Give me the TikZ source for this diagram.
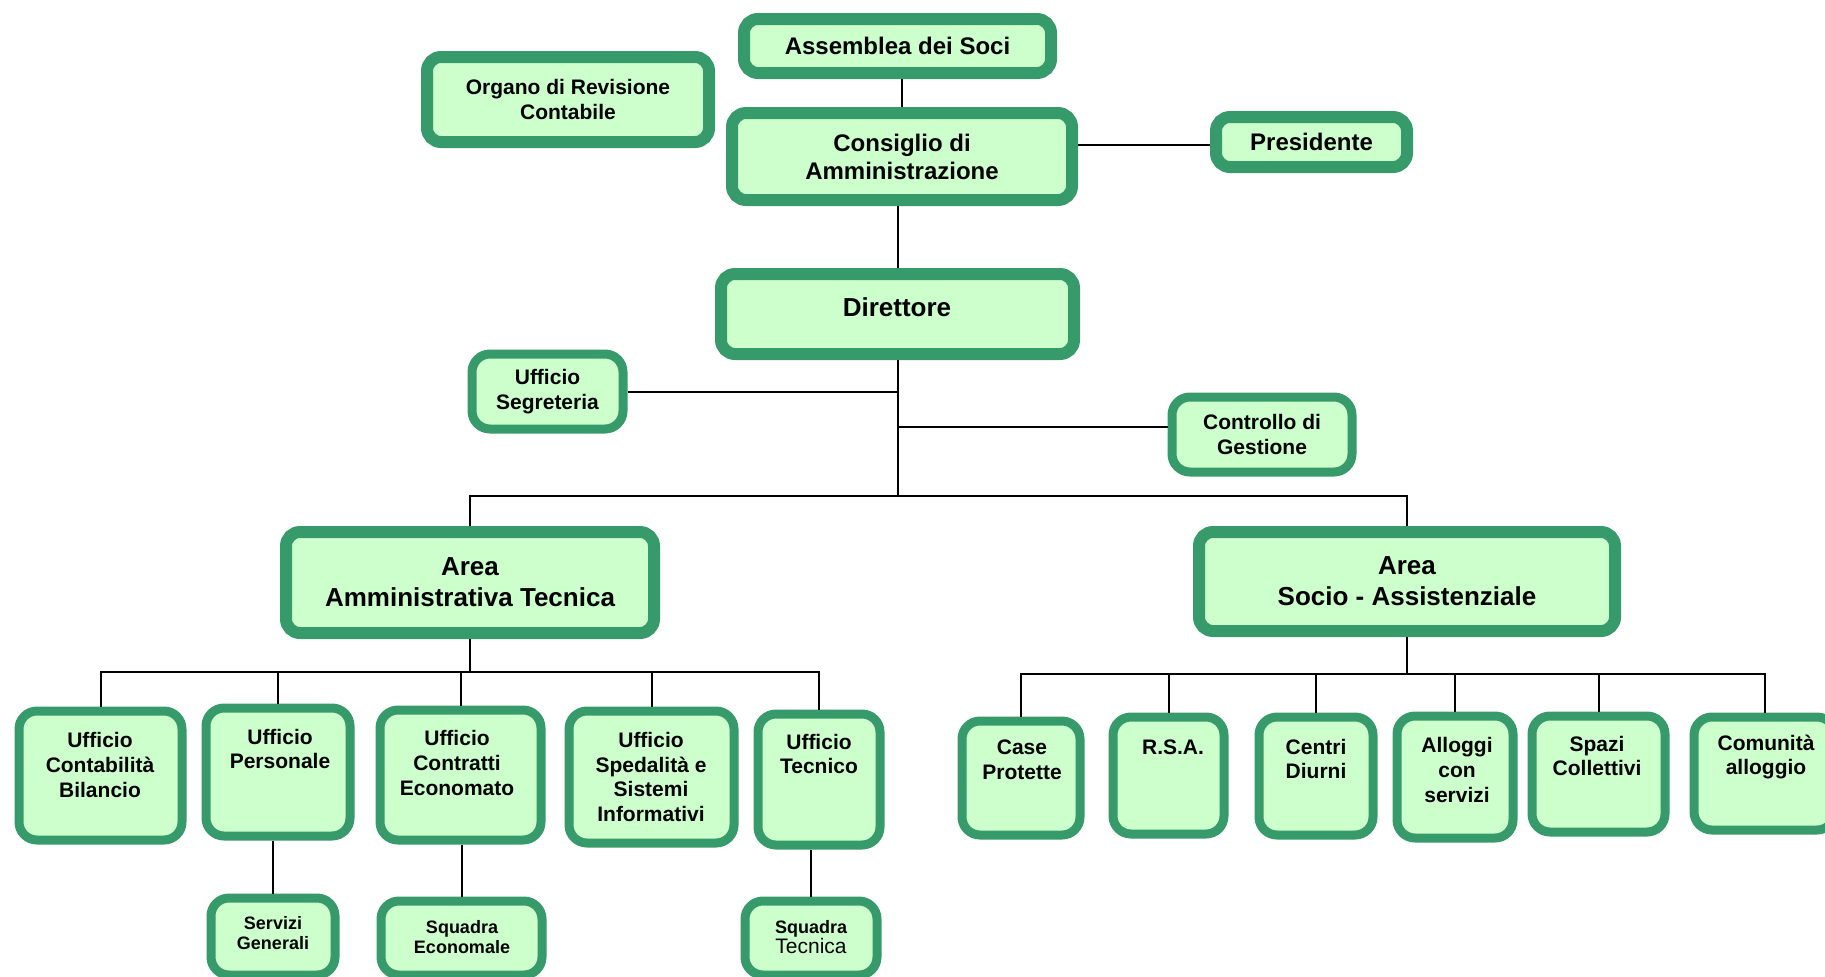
\documentclass[tikz,border=0pt]{standalone}
\usepackage{fontspec}
\setmainfont{Liberation Sans}
\usetikzlibrary{fit,calc}
\definecolor{ugreen}{RGB}{55,154,106}
\definecolor{ufill}{RGB}{204,255,204}

\begin{document}
\begin{tikzpicture}[x=0.5pt, y=-0.5pt,
    ubox/.style={draw=ugreen, fill=ufill, line width=4.5pt, rounded corners=9pt, inner sep=0pt},
    heavybox/.style={ubox, line width=6pt, rounded corners=7pt},
    bigtxt/.style={font=\fontsize{13}{15.5}\selectfont\bfseries, align=center},
    midtxt/.style={font=\fontsize{12}{14}\selectfont\bfseries, align=center},
    unittxt/.style={font=\fontsize{10.5}{12.3}\selectfont\bfseries, align=center},
    smalltxt/.style={font=\fontsize{9}{10}\selectfont\bfseries, align=center},
    conn/.style={line width=1pt}]

    \useasboundingbox (0,0) rectangle (1825,976);

    % vertice
    \node[heavybox, fit={(744,19) (1051,73)}] (soci) {};
    \node[heavybox, fit={(427,57) (709,142)}] (org) {};
    \node[heavybox, fit={(732,113) (1072,200)}] (cda) {};
    \node[heavybox, fit={(1216,117) (1407,167)}] (pres) {};
    \node[heavybox, fit={(721,274) (1074,354)}] (dir) {};
    \node[ubox, fit={(472,354) (623,429)}] (segr) {};
    \node[ubox, fit={(1172,397) (1352,472)}] (ctrl) {};

    % aree
    \node[heavybox, fit={(286,532) (654,633)}] (ata) {};
    \node[heavybox, fit={(1199,532) (1615,631)}] (ass) {};

    % uffici area amministrativa tecnica
    \node[ubox, fit={(19,711) (182,840)}] (ucb) {};
    \node[ubox, fit={(206,708) (350,836)}] (upe) {};
    \node[ubox, fit={(380,710) (541,840)}] (uce) {};
    \node[ubox, fit={(569,711) (734,843)}] (uss) {};
    \node[ubox, fit={(758,714) (880,845)}] (ute) {};
    \node[ubox, fit={(211,898) (335,975)}] (sg) {};
    \node[ubox, fit={(381,901) (542,975)}] (se) {};
    \node[ubox, fit={(745,901) (877,975)}] (st) {};

    % servizi area socio-assistenziale
    \node[ubox, fit={(962,721) (1080,835)}] (cp) {};
    \node[ubox, fit={(1113,717) (1224,834)}] (rsa) {};
    \node[ubox, fit={(1259,717) (1373,835)}] (cd) {};
    \node[ubox, fit={(1397,716) (1513,838)}] (acs) {};
    \node[ubox, fit={(1532,716) (1665,832)}] (sc) {};
    \node[ubox, fit={(1694,717) (1835,830)}] (ca) {};

    % testi
    \node[midtxt] at (soci) {Assemblea dei Soci};
    \node[unittxt] at (org) {Organo di Revisione\\Contabile};
    \node[midtxt] at (cda) {Consiglio di\\Amministrazione};
    \node[midtxt] at (pres) {Presidente};
    \node[bigtxt] at (897,307) {Direttore};
    \node[unittxt] at (segr) {Ufficio\\Segreteria};
    \node[unittxt] at (ctrl) {Controllo di\\Gestione};
    \node[bigtxt] at (ata) {Area\\Amministrativa Tecnica};
    \node[bigtxt] at (ass) {Area\\Socio - Assistenziale};

    \node[unittxt] at (100,765) {Ufficio\\Contabilità\\Bilancio};
    \node[unittxt] at (280,749) {Ufficio\\Personale};
    \node[unittxt] at (457,763) {Ufficio\\Contratti\\Economato};
    \node[unittxt] at (651,777) {Ufficio\\Spedalità e\\Sistemi\\Informativi};
    \node[unittxt] at (819,754) {Ufficio\\Tecnico};
    \node[smalltxt] at (273,933) {Servizi\\Generali};
    \node[smalltxt] at (462,937) {Squadra\\Economale};
    \node[smalltxt] at (811,937) {Squadra\\\fontsize{10.5}{12}\selectfont\mdseries Tecnica};

    \node[unittxt] at (1022,760) {Case\\Protette};
    \node[unittxt] at (1173,747) {R.S.A.};
    \node[unittxt] at (1316,759) {Centri\\Diurni};
    \node[unittxt] at (1457,770) {Alloggi\\con\\servizi};
    \node[unittxt] at (1597,756) {Spazi\\Collettivi};
    \node[unittxt] at (1766,757) {Comunità\\alloggio};

    % collegamenti
    \draw[conn] (cda.north) -- (cda.north |- soci.south);
    \draw[conn] ([yshift=-1.5pt]pres.west) -- ([yshift=-1.5pt]pres.west -| cda.east);
    \draw[conn] (dir.north) -- (dir.north |- cda.south);

    \coordinate (top) at (dir.south |- 0,496);
    \draw[conn] (dir.south) -- (top);
    \draw[conn] (segr.east) -- (segr.east -| dir.south);
    \draw[conn] ([yshift=4pt]ctrl.west) -- ([yshift=4pt]ctrl.west -| dir.south);
    \draw[conn] (ata.north) |- (top) -| (ass.north);

    \coordinate (amm) at (ata.south |- 0,672);
    \draw[conn] (ata.south) -- (amm);
    \draw[conn] (amm) -| (ucb.north);
    \draw[conn] (amm) -| (upe.north);
    \draw[conn] (amm) -| (uce.north);
    \draw[conn] (amm) -| (uss.north);
    \draw[conn] (amm) -| (ute.north);
    \draw[conn] (sg.north) -- (sg.north |- upe.south);
    \draw[conn] (se.north) -- (se.north |- uce.south);
    \draw[conn] (st.north) -- (st.north |- ute.south);

    \coordinate (soc) at (ass.south |- 0,674);
    \draw[conn] (ass.south) -- (soc);
    \draw[conn] (soc) -| (cp.north);
    \draw[conn] (soc) -| (rsa.north);
    \draw[conn] (soc) -| (cd.north);
    \draw[conn] (soc) -| (acs.north);
    \draw[conn] (soc) -| (sc.north);
    \draw[conn] (soc) -| (ca.north);
\end{tikzpicture}
\end{document}
